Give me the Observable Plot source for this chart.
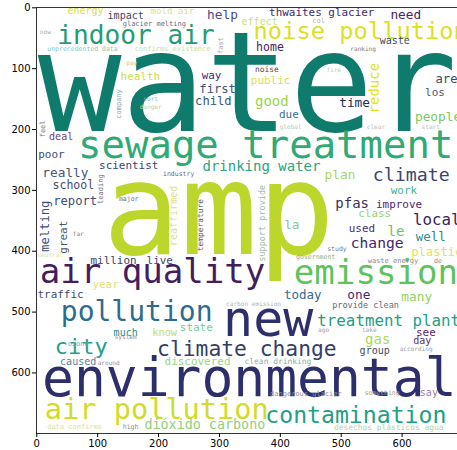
<!DOCTYPE html>
<html><head><meta charset="utf-8">
<script src="https://cdn.jsdelivr.net/npm/d3@7"></script>
<script src="https://cdn.jsdelivr.net/npm/@observablehq/plot@0.6"></script>
<style>html,body{margin:0;padding:0;background:#fff;overflow:hidden}</style>
</head><body><div id="chart"></div>
<script>
// Word cloud content, in image coordinates (x, baseline y, font size)
const words = ["water","amp","environmental","new","sewage treatment","air quality","emission","air pollution","contamination","pollution",
 "noise pollution","indoor air","climate change","city","treatment plant","climate","drinking water","local","change","pfas",
 "improve","really","school","report","scientist","time","home","help","thwaites glacier","need",
 "impact","energy","glacier melting","effect","waste","health","way","first","child","public",
 "good","due","area","los","people","deal","poor","plan","class","work",
 "le","la","used","well","plastic","million","live","year","traffic","today",
 "one","many","provide clean","gas","see","much","know","state","caused","discovered",
 "clean drinking","group","day","say","dangerous glacier","dióxido carbono",
 "unprecedented data","confirms existence","ranking","pay","noise","fire","sort","danger","industry","major",
 "far","study","waste energy","de","government","carbon emission","take","ago","according","system",
 "ozone","around","something","high","data confirms","desechos plásticos agua","now","mold air","col","global","neutral","start","clear"];
const wordX = [346,299,349,380,376,190,557,197,524,164,
 532,163,345,73,578,615,369,657,559,518,
 595,47,60,63,151,522,383,305,468,606,
 146,80,193,366,588,170,287,297,290,384,
 386,414,679,654,659,40,24,498,555,603,
 590,419,534,647,657,126,202,113,39,437,
 529,624,540,560,639,146,210,262,68,264,
 396,555,633,644,442,276,
 75,223,536,156,378,488,187,187,233,151,
 68,493,585,659,458,356,546,471,623,146,
 68,118,567,154,62,578,14,223,463,417,22,647,557];
const wordY = [202,405,638,540,247,452,454,676,683,515,
 51,59,572,569,523,285,268,357,395,329,
 329,278,298,324,265,163,71,18,13,18,
 18,10,30,28,59,118,117,140,160,125,
 161,181,123,145,186,217,247,281,344,306,
 375,363,368,383,408,421,421,461,477,479,
 479,482,493,553,540,540,540,531,587,587,
 586,569,553,638,638,692,
 71,71,71,94,105,105,153,166,276,317,
 375,400,419,419,413,490,533,533,564,544,
 556,587,637,692,692,694,43,11,25,199,410,199,199];
const wordSize = [229,211,87,82,64,56,56,47,38,46,
 39,43,35,36,26,30,23,26,24,23,
 18,21,19,20,18,21,19,21,18,21,
 16.5,16.5,11.5,16.5,16.5,18,18,20,20,18,
 23,18,20,18,21,16.5,18,21,18,18,
 23,20,18,20.5,20,18,18,18,18,20.5,
 21,21,14,23,18,16.5,17,18,16.5,18,
 13,16.5,16.5,16.5,11.5,22,
 10.7,11.5,10,10,13,10,10,10,10.7,10.7,
 10,10.7,11.5,10.7,10.7,10,10,10,10,10,
 11.5,10,10.7,10.7,11.5,13,10,15,11.5,10,10,10,10];
const wordColor = ["#0f7b6c","#bcd62b","#2d2f6c","#2d2f6c","#2eaa72","#431d5e","#5dc35b","#cfdc2a","#21a085","#2c6c8c",
 "#dbe21e","#1f9c7a","#333f66","#1fa187","#23a083","#3a4770","#2ba37c","#3d1f5d","#45266a","#36305e",
 "#50276e","#42577c","#4c4a76","#3f4a78","#3c4670","#262d58","#4b1c5e","#444a82","#42276e","#461d64",
 "#3f4766","#d8dd50","#6a6a7a","#cfe07a","#3d4a66","#c7dd55","#4c2a72","#3e5578","#3b5478","#d6e04a",
 "#98d34a","#35709a","#3a4864","#4a5570","#76c864","#6a3f7a","#3e4a76","#a4d75a","#8ed47e","#4ab08a",
 "#68c85e","#86c888","#4c2e6e","#2f8c88","#dde35c","#3b3e6a","#3e466e","#dde27a","#3d4a72","#2f6a90",
 "#48286a","#8ed35e","#606a7a","#a9d758","#58246e","#278c8c","#c0de70","#78cc90","#5a7d9c","#98d48a",
 "#7fb0b0","#404d60","#5c2e70","#9b7fa8","#8a94a2","#8fd07a",
 "#8cc4b0","#c4e0a8","#7a7a80","#cfc890","#444a5a","#b0d0b0","#8aa8b0","#c8d098","#6a6a7a","#6a7080",
 "#7a7a80","#7a7a88","#8a8a94","#8a8a8a","#80b090","#a0b8c0","#9aa0a8","#9aa0a8","#9aa0a8","#8a90a0",
 "#7aa0c0","#8a98b0","#a0a0a8","#8a8a94","#dde0a0","#a8d8b0","#a0b0a0","#e0e090","#b0b8c0","#c0c8b8","#e0e0a0","#b0b8b8","#b8c0b8"];

// Vertical words: centre x, centre y, font size
const vWords = ["reduce","melting","great","reaffirmed","temperature","support provide","leading","company","fast","feel"];
const vX = [555,14,44,225,269,371,105,134,302,9];
const vY = [132,359,377,342,357,354,298,158,62,199];
const vSize = [23,20,18,16.5,13,14,11.5,11.5,11.5,11.5];
const vColor = ["#dfe318","#3e4e7a","#4a5766","#dde08a","#3e5a80","#98bcaa","#6a6a7a","#8aa8b4","#a0a4ac","#6a7080"];

const xTicks = [0,100,200,300,400,500,600];
const yTicks = [0,100,200,300,400,500,600];

const W = 457, H = 450, mL = 36, mR = 0, mT = 7, mB = 17;
const xDom = [-0.5, 691], yDom = [-0.5, 699.5];
const k = (W - mL - mR) / (xDom[1] - xDom[0]);

const hData = words.map((w, i) => ({w, x: wordX[i], y: wordY[i], s: wordSize[i], c: wordColor[i]}));
const vData = vWords.map((w, i) => ({w, x: vX[i], y: vY[i], s: vSize[i], c: vColor[i]}));

const chart = Plot.plot({
  width: W, height: H,
  marginLeft: mL, marginRight: mR, marginTop: mT, marginBottom: mB,
  style: {fontFamily: "DejaVu Sans", background: "#fff", overflow: "hidden"},
  x: {domain: xDom},
  y: {domain: yDom, reverse: true},
  marks: [
    Plot.text(hData, {x: "x", y: "y", text: "w", fill: "c", fontSize: d => d.s * k,
      fontFamily: "DejaVu Sans Mono", textAnchor: "middle", lineAnchor: "bottom", clip: true}),
    Plot.text(vData, {x: "x", y: "y", text: "w", fill: "c", fontSize: d => d.s * k, rotate: -90,
      fontFamily: "DejaVu Sans Mono", textAnchor: "middle", lineAnchor: "middle", clip: true}),
    Plot.frame({stroke: "#333", strokeWidth: 1}),
    Plot.axisX({ticks: xTicks, tickSize: 4, tickPadding: 2, fontSize: 10, label: null, tickFormat: d => d}),
    Plot.axisY({ticks: yTicks, tickSize: 4, tickPadding: 2, fontSize: 10, label: null, tickFormat: d => d})
  ]
});
document.getElementById("chart").append(chart);
</script>
</body></html>
